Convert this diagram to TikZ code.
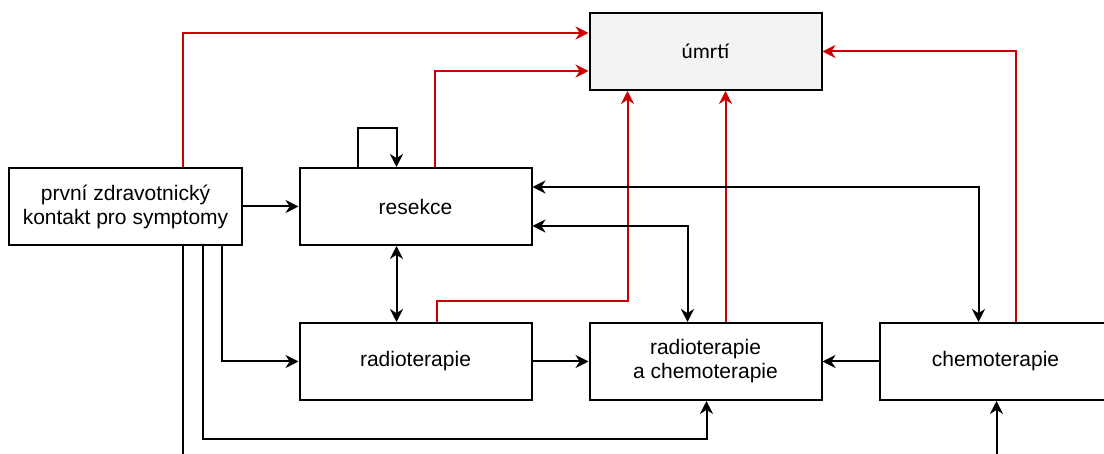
\documentclass[tikz,border=0pt]{standalone}
\usepackage{fontspec}
\setmainfont{Liberation Sans}
\newfontfamily\calibri{Carlito}
\usetikzlibrary{arrows.meta, positioning, calc}
\definecolor{deathred}{HTML}{CC0000}
\definecolor{deathfill}{HTML}{F3F3F3}

\begin{document}
\begin{tikzpicture}[
    box/.style={draw, line width=1pt, minimum width=116pt, minimum height=38.5pt, align=center, inner sep=2pt, font=\fontsize{10.5}{12}\selectfont},
    arrow/.style={-{Stealth[length=6.5pt, width=6.5pt]}, line width=1pt},
    both/.style={{Stealth[length=6.5pt, width=6.5pt]}-{Stealth[length=6.5pt, width=6.5pt]}, line width=1pt},
    death/.style={-{Stealth[length=6.5pt, width=6.5pt]}, line width=1pt, draw=deathred, fill=none},
    node distance=38pt and 28pt
]
    \useasboundingbox (-62.75pt,103.25pt) rectangle (489.25pt,-123.75pt);

    % Top row
    \node[box] (prvni) at (0,0) {první zdravotnický\\kontakt pro symptomy};
    \node[box, right=of prvni] (resekce) {resekce};

    % Bottom row
    \node[box, below=of resekce] (radio) {radioterapie};
    \node[box, right=of radio] (radiochemo) {radioterapie\\a chemoterapie};
    \node[box, right=of radiochemo] (chemo) {chemoterapie};

    % Outcome
    \node[box, fill=deathfill, above=115.5pt of radiochemo, font=\calibri\fontsize{10.7}{12}\selectfont] (umrti) {úmrtí};

    % Ends outside the picture
    \coordinate (prvniout) at ($(prvni.south)+(28.75pt,-115pt)$);
    \coordinate (chemoin) at ($(chemo.south)+(0.5pt,-30pt)$);

    % Red arrows
    \draw[death] ([xshift=28.75pt]prvni.north) |- ([yshift=9.25pt]umrti.west);
    \draw[death] ([xshift=9.5pt]resekce.north) |- ([yshift=-9.75pt]umrti.west);
    \draw[death] ([xshift=10pt]chemo.north) |- (umrti.east);
    \draw[death] ([xshift=10.5pt]radio.north) -- ++(0,10.5pt) -| ([xshift=-39pt]umrti.south);
    \draw[death] ([xshift=10pt]radiochemo.north) -- ([xshift=10pt]umrti.south);

    % Black arrows
    \draw[arrow] ([xshift=-29pt]resekce.north) -- ++(0,19.5pt) -| ([xshift=-9.5pt]resekce.north);
    \draw[arrow] (prvni) -- (resekce);
    \draw[both] ([yshift=9.75pt]resekce.east) -| ([xshift=-8.5pt]chemo.north);
    \draw[both] ([yshift=-9.75pt]resekce.east) -| ([xshift=-9pt]radiochemo.north);
    \draw[both] ([xshift=-9.5pt]resekce.south) -- ([xshift=-9.5pt]radio.north);
    \draw[arrow] (radio) -- (radiochemo);
    \draw[arrow] (chemo) -- (radiochemo);
    \draw[arrow] ([xshift=48.25pt]prvni.south) |- (radio.west);
    \draw[arrow] ([xshift=38.75pt]prvni.south) -- ++(0,-96.5pt) -| ([xshift=0.5pt]radiochemo.south);
    \draw[line width=1pt] ([xshift=28.75pt]prvni.south) -- (prvniout);
    \draw[arrow] (chemoin) -- ([xshift=0.5pt]chemo.south);
\end{tikzpicture}
\end{document}
